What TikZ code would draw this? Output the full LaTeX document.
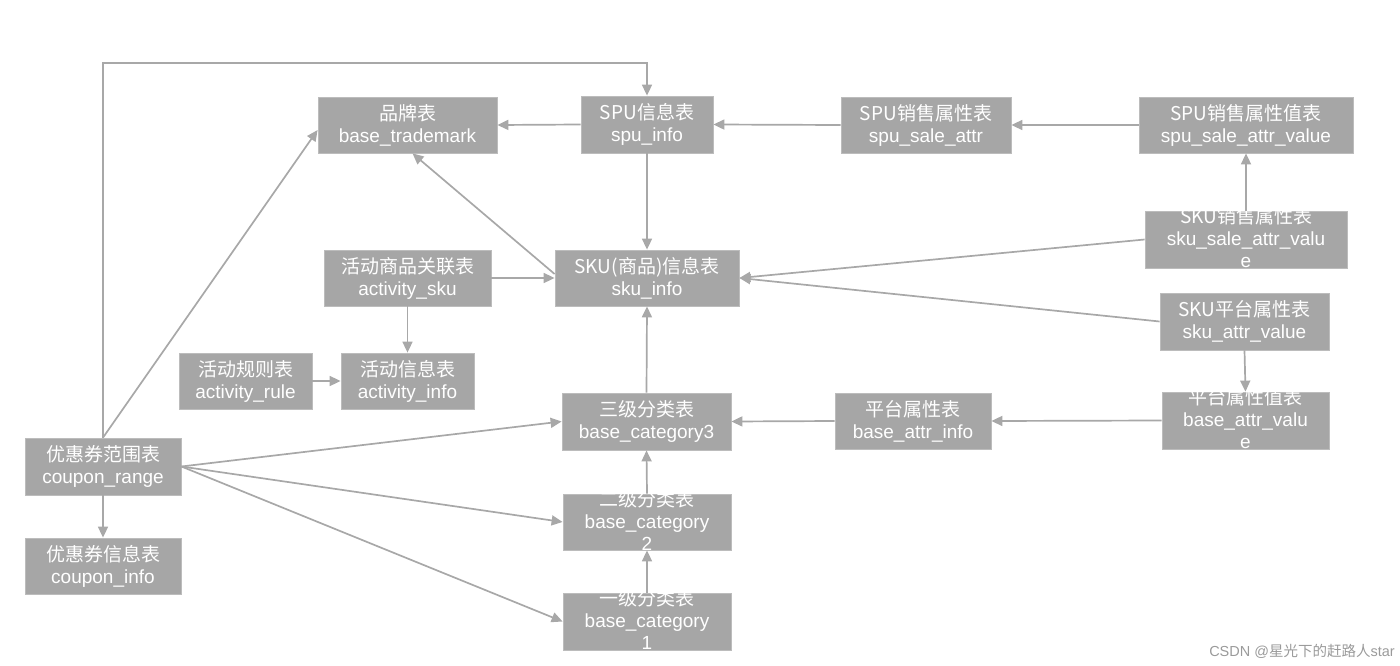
\documentclass[tikz,border=0pt]{standalone}
\usepackage{fontspec}
\setmainfont{Liberation Sans}
\newfontfamily\cjk{Noto Sans CJK SC}
\usetikzlibrary{arrows.meta}
\definecolor{boxgray}{HTML}{A6A6A6}
\definecolor{boxedge}{HTML}{BCBCBC}
\definecolor{linegray}{HTML}{A8A8A8}
\definecolor{wmgray}{HTML}{9A9A9A}
\newcommand\tb[2]{\smash{\raisebox{-6pt}{\fontsize{19}{22}\selectfont\begin{tabular}{@{}c@{}}{\cjk #1}\\#2\end{tabular}}}}
\newcommand\tbb[3]{\smash{\raisebox{-6pt}{\fontsize{19}{22}\selectfont\begin{tabular}{@{}c@{}}{\cjk #1}\\#2\\#3\end{tabular}}}}
\tikzset{
  tbox/.style={rectangle, fill=boxgray, draw=boxedge, line width=0.8pt, text=white, inner sep=0pt, align=center},
  arr/.style={draw=linegray, line width=1.7pt, -{Triangle[length=11pt,width=10pt]}},
}
\begin{document}
\begin{tikzpicture}[x=1pt,y=-1pt]
\useasboundingbox (0,0) rectangle (1400,666);
% boxes
\node[tbox, minimum width=179pt, minimum height=56pt] (tm) at (407.5,125) {\tb{品牌表}{base\_trademark}};
\node[tbox, minimum width=132pt, minimum height=57pt] (spu) at (647,124.5) {\tb{SPU信息表}{spu\_info}};
\node[tbox, minimum width=170pt, minimum height=56pt] (ssa) at (926,125) {\tb{SPU销售属性表}{spu\_sale\_attr}};
\node[tbox, minimum width=214pt, minimum height=56pt] (ssav) at (1246,125) {\tb{SPU销售属性值表}{spu\_sale\_attr\_value}};
\node[tbox, minimum width=202pt, minimum height=57pt] (sksa) at (1246,239.5) {\tbb{SKU销售属性表}{sku\_sale\_attr\_valu}{e}};
\node[tbox, minimum width=169pt, minimum height=57pt] (sav) at (1244.5,321.5) {\tb{SKU平台属性表}{sku\_attr\_value}};
\node[tbox, minimum width=167pt, minimum height=57pt] (bav) at (1245.5,420.5) {\tbb{平台属性值表}{base\_attr\_valu}{e}};
\node[tbox, minimum width=156pt, minimum height=56pt] (bai) at (913,421) {\tb{平台属性表}{base\_attr\_info}};
\node[tbox, minimum width=184pt, minimum height=56pt] (sku) at (647,278) {\tb{SKU(商品)信息表}{sku\_info}};
\node[tbox, minimum width=167pt, minimum height=56pt] (acts) at (407.5,278) {\tb{活动商品关联表}{activity\_sku}};
\node[tbox, minimum width=133pt, minimum height=56pt] (acti) at (407.5,381) {\tb{活动信息表}{activity\_info}};
\node[tbox, minimum width=133pt, minimum height=56pt] (actr) at (245.5,381) {\tb{活动规则表}{activity\_rule}};
\node[tbox, minimum width=169pt, minimum height=57pt] (c3) at (646.5,421.5) {\tb{三级分类表}{base\_category3}};
\node[tbox, minimum width=168pt, minimum height=56pt] (c2) at (647,522) {\tbb{二级分类表}{base\_category}{2}};
\node[tbox, minimum width=168pt, minimum height=57pt] (c1) at (647,621.5) {\tbb{一级分类表}{base\_category}{1}};
\node[tbox, minimum width=156pt, minimum height=57pt] (cr) at (103,466.5) {\tb{优惠券范围表}{coupon\_range}};
\node[tbox, minimum width=156pt, minimum height=56pt] (ci) at (103,566) {\tb{优惠券信息表}{coupon\_info}};
\node[text=wmgray, inner sep=0pt] (wm) at (1302,651) {\fontsize{14.5}{14.5}\selectfont CSDN @{\cjk 星光下的赶路人}star};
% connectors
\coordinate (topc) at (0,63);
\draw[arr] (spu.west) -- (tm.east);
\draw[arr] (ssa.west) -- (spu.east);
\draw[arr] (ssav.west) -- (ssa.east);
\draw[arr] (sksa.north) -- (ssav.south);
\draw[arr] (spu.south) -- (sku.north);
\draw[arr] ([yshift=4pt]sku.west) -- ([xshift=5pt]tm.south);
\draw[arr] (acts.east) -- (sku.west);
\draw[arr] (acts.south) -- (acti.north);
\draw[arr] (actr.east) -- (acti.west);
\draw[arr] (c3.north) -- (sku.south);
\draw[arr] (c2.north) -- (c3.south);
\draw[arr] (c1.north) -- (c2.south);
\draw[arr] (bai.west) -- (c3.east);
\draw[arr] (bav.west) -- (bai.east);
\draw[arr] (sav.south) -- (bav.north);
\draw[arr] (sksa.west) -- (sku.east);
\draw[arr] (sav.west) -- (sku.east);
\draw[arr] (cr.north) |- (topc -| spu.north) -- (spu.north);
\draw[arr] (cr.north) -- ([yshift=-5pt]tm.west);
\draw[arr] (cr.south) -- (ci.north);
\draw[arr] (cr.east) -- (c3.west);
\draw[arr] (cr.east) -- (c2.west);
\draw[arr] (cr.east) -- (c1.west);
\end{tikzpicture}
\end{document}
